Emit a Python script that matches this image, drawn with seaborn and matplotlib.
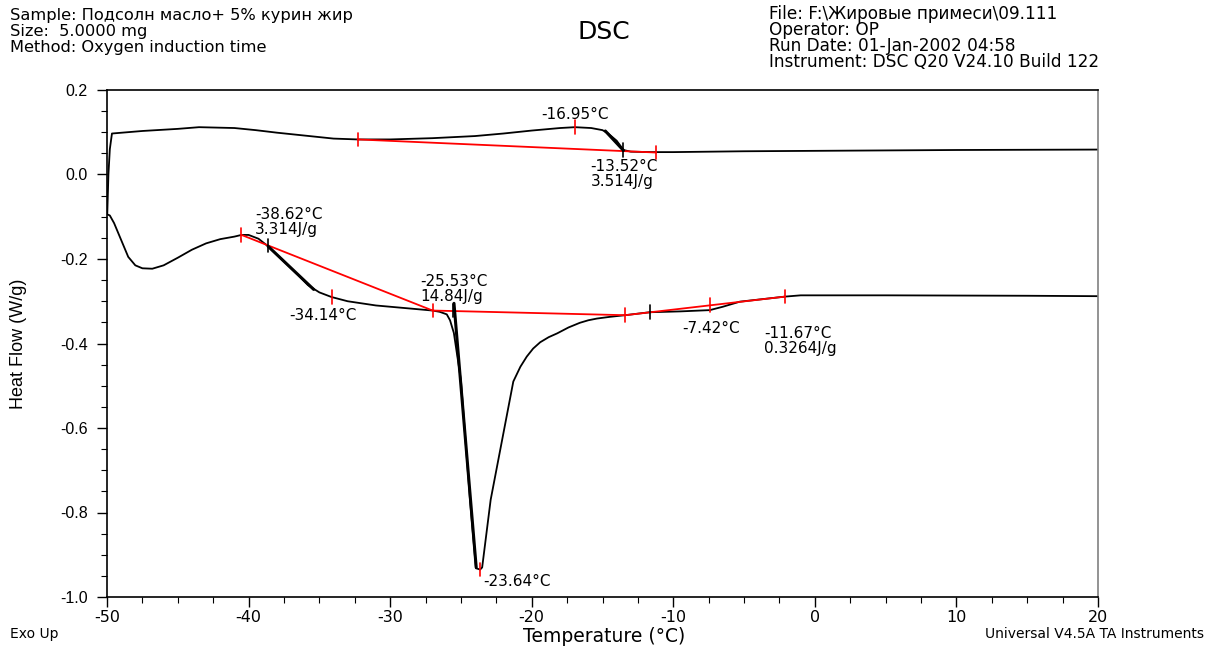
import numpy as np
import pandas as pd
import matplotlib
matplotlib.use("Agg")
import matplotlib.pyplot as plt
import seaborn as sns
from matplotlib.ticker import MultipleLocator, FormatStrFormatter

# ---- thermogram data (Temperature °C, Heat Flow W/g) ----
upper_T = [-49.98, -49.9, -49.8, -49.65, -47.5, -45.0, -43.5, -41.0, -39.5, -38.0,
           -36.0, -34.0, -32.3, -30.0, -27.0, -24.0, -22.0, -20.0, -18.0, -16.95,
           -15.8, -15.0, -14.6, -14.0, -13.52, -13.0, -11.5, -10.0, -5.0, 0.0,
           10.0, 20.0]
upper_HF = [-0.092, 0.0, 0.06, 0.097, 0.103, 0.108, 0.112, 0.110, 0.105, 0.099,
            0.092, 0.085, 0.083, 0.083, 0.086, 0.091, 0.097, 0.104, 0.110, 0.112,
            0.110, 0.105, 0.097, 0.080, 0.058, 0.054, 0.053, 0.053, 0.055, 0.056,
            0.058, 0.059]

lower_T = [-50.0, -49.8, -49.5, -49.0, -48.5, -48.0, -47.5, -46.8, -46.0, -45.0,
           -44.0, -43.0, -42.0, -41.0, -40.5, -40.0, -39.3, -38.62, -37.5, -36.5,
           -35.8, -35.0, -34.14, -33.0, -31.0, -29.0, -27.0, -26.5, -26.0, -25.77,
           -25.5, -25.3, -25.0, -24.36, -23.94, -23.64, -23.5, -22.9, -22.1, -21.3,
           -20.8, -20.35, -19.9, -19.4, -18.8, -18.2, -17.4, -16.6, -16.0, -15.4,
           -14.5, -13.4, -11.67, -9.5, -7.42, -6.5, -5.3, -2.1, -1.0, 0.0,
           5.0, 10.0, 15.0, 20.0]
lower_HF = [-0.094, -0.097, -0.115, -0.155, -0.195, -0.215, -0.222, -0.223, -0.215, -0.197,
            -0.178, -0.163, -0.153, -0.147, -0.143, -0.143, -0.152, -0.170, -0.206, -0.238,
            -0.262, -0.279, -0.290, -0.300, -0.310, -0.316, -0.322, -0.325, -0.331, -0.345,
            -0.375, -0.420, -0.487, -0.770, -0.932, -0.935, -0.930, -0.770, -0.630, -0.490,
            -0.455, -0.431, -0.412, -0.397, -0.385, -0.376, -0.362, -0.351, -0.345, -0.341,
            -0.337, -0.333, -0.326, -0.324, -0.321, -0.313, -0.301, -0.289, -0.286, -0.286,
            -0.286, -0.2865, -0.287, -0.288]

# integration baselines (red)
base_upper_T = [-32.3, -11.2]
base_upper_HF = [0.083, 0.052]
base_lower_T = [-40.5, -27.0, -13.4, -2.1]
base_lower_HF = [-0.143, -0.322, -0.333, -0.289]

# onset tangents (black, heavier)
tang_T = [[-14.8, -13.52], [-38.62, -35.4], [-25.49, -23.92]]
tang_HF = [[0.103, 0.057], [-0.170, -0.272], [-0.305, -0.93]]

# marker ticks: (T, HF, colour)
marks_T = [-32.3, -16.95, -11.2, -13.52, -40.5, -38.62, -34.14, -27.0, -25.53, -23.64,
           -13.4, -11.67, -7.42, -2.1]
marks_HF = [0.083, 0.112, 0.052, 0.058, -0.143, -0.168, -0.290, -0.322, -0.322, -0.935,
            -0.333, -0.326, -0.309, -0.289]
marks_C = ["red", "red", "red", "black", "red", "black", "red", "red", "black", "red",
           "red", "black", "red", "red"]

# peak annotations, left/top anchored
notes_text = ["-16.95°C", "-13.52°C\n3.514J/g", "-38.62°C\n3.314J/g", "-34.14°C",
              "-25.53°C\n14.84J/g", "-23.64°C", "-7.42°C", "-11.67°C\n0.3264J/g"]
notes_T = [-19.35, -15.85, -39.55, -37.15, -27.9, -23.45, -9.4, -3.6]
notes_HF = [0.160, 0.036, -0.077, -0.316, -0.236, -0.946, -0.346, -0.358]

# run header lines
header_left = ["Sample: Подсолн масло+ 5% курин жир", "Size:  5.0000 mg",
               "Method: Oxygen induction time"]
header_right = ["File: F:\\Жировые примеси\\09.111", "Operator: OP",
                "Run Date: 01-Jan-2002 04:58", "Instrument: DSC Q20 V24.10 Build 122"]

sns.set_theme(style="white")
plt.rcParams["font.family"] = ["Liberation Sans", "DejaVu Sans"]
plt.rcParams["axes.unicode_minus"] = False
for key in ["text.color", "axes.labelcolor", "xtick.color", "ytick.color"]:
    plt.rcParams[key] = "black"
WIDE = ["DejaVu Sans"]

fig = plt.figure(figsize=(12.06, 6.47), dpi=100)
ax = fig.add_axes([107 / 1206, 1 - 597 / 647, 991 / 1206, 507 / 647])

df_up = pd.DataFrame({"T": upper_T, "HF": upper_HF})
df_lo = pd.DataFrame({"T": lower_T, "HF": lower_HF})
sns.lineplot(data=df_up, x="T", y="HF", sort=False, estimator=None, color="black",
             linewidth=1.3, ax=ax)
sns.lineplot(data=df_lo, x="T", y="HF", sort=False, estimator=None, color="black",
             linewidth=1.3, ax=ax)

for bt, bh in [(base_upper_T, base_upper_HF), (base_lower_T, base_lower_HF)]:
    sns.lineplot(x=bt, y=bh, sort=False, estimator=None, color="red", linewidth=1.3, ax=ax)

for tt, th in zip(tang_T, tang_HF):
    sns.lineplot(x=tt, y=th, sort=False, estimator=None, color="black", linewidth=2.2, ax=ax)

for mt, mh, mc in zip(marks_T, marks_HF, marks_C):
    ax.plot([mt, mt], [mh - 0.016, mh + 0.016], color=mc, linewidth=1.2)

for txt, nt, nh in zip(notes_text, notes_T, notes_HF):
    ax.text(nt, nh, txt, fontsize=11, family=WIDE, ha="left", va="top", linespacing=0.98)

ax.set_xlim(-50, 20)
ax.set_ylim(-1.0, 0.2)
ax.xaxis.set_major_locator(MultipleLocator(10))
ax.xaxis.set_minor_locator(MultipleLocator(2.5))
ax.yaxis.set_major_locator(MultipleLocator(0.2))
ax.yaxis.set_minor_locator(MultipleLocator(0.05))
ax.yaxis.set_major_formatter(FormatStrFormatter("%.1f"))
ax.tick_params(axis="both", which="major", direction="out", length=7, width=1,
               color="black", bottom=True, left=True)
ax.tick_params(axis="both", which="minor", direction="out", length=4, width=0.8,
               color="black", bottom=True, left=True)
ax.tick_params(axis="y", which="major", labelsize=11.5, pad=7)
ax.tick_params(axis="x", which="major", labelsize=11.5, pad=2)
for lab in ax.get_xticklabels():
    lab.set_family(WIDE)
for side in ["left", "bottom", "top"]:
    ax.spines[side].set_color("black")
    ax.spines[side].set_linewidth(1.2)
ax.spines["right"].set_color("#808080")
ax.spines["right"].set_linewidth(1.2)

ax.set_xlabel("Temperature (°C)", fontsize=13.5, family=WIDE, va="center")
ax.xaxis.set_label_coords((604 - 107) / 991, (597 - 636) / 507)
ax.set_ylabel("Heat Flow (W/g)", fontsize=13, va="center")
ax.yaxis.set_label_coords((19 - 107) / 991, 0.50)

# header block, one line at a time (baselines in pixels from the top)
for i, line in enumerate(header_left):
    fig.text(10 / 1206, 1 - (20 + 16 * i) / 647, line, fontsize=11.7, family=WIDE,
             ha="left", va="baseline")
for i, line in enumerate(header_right):
    fig.text(769 / 1206, 1 - (19 + 16 * i) / 647, line, fontsize=12.2, family=WIDE,
             ha="left", va="baseline")
fig.text(604 / 1206, 1 - 32 / 647, "DSC", fontsize=18, family=WIDE, ha="center", va="center")
fig.text(10 / 1206, 1 - 634 / 647, "Exo Up", fontsize=10, family=WIDE, ha="left", va="center")
fig.text(1204 / 1206, 1 - 634 / 647, "Universal V4.5A TA Instruments", fontsize=10,
         family=WIDE, ha="right", va="center")

fig.savefig("out.png", dpi=100)
